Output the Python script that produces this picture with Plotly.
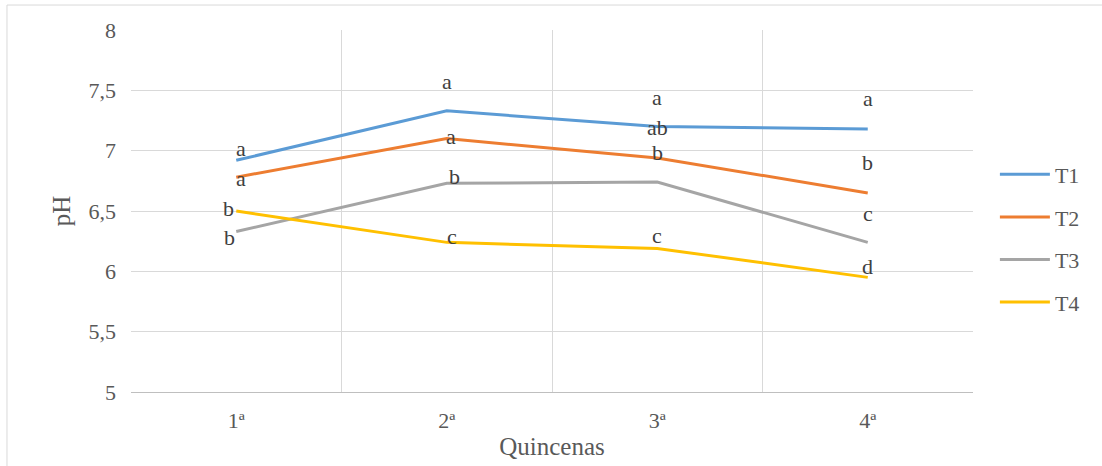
import plotly.graph_objects as go

categories = ["1ª", "2ª", "3ª", "4ª"]
series_names = ["T1", "T2", "T3", "T4"]
t1 = [6.92, 7.33, 7.20, 7.18]
t2 = [6.78, 7.10, 6.94, 6.65]
t3 = [6.33, 6.73, 6.74, 6.24]
t4 = [6.50, 6.24, 6.19, 5.95]
letters_t1 = ["a", "a", "a", "a"]
letters_t2 = ["a", "a", "ab", "b"]
letters_t3 = ["b", "b", "b", "c"]
letters_t4 = ["b", "c", "c", "d"]
y_ticks = [5, 5.5, 6, 6.5, 7, 7.5, 8]
y_ticktext = ["5", "5,5", "6", "6,5", "7", "7,5", "8"]

values = [t1, t2, t3, t4]
letters = [letters_t1, letters_t2, letters_t3, letters_t4]
colors = ["#5B9BD5", "#ED7D31", "#A5A5A5", "#FFC000"]

# label offsets in pixels (style), per series per category
xshifts = [[5, 0, 0, 0], [5, 4, 0, 0], [-7, 8, 0, 0], [-8, 5, 0, 0]]
yshifts = [[12, 29, 29, 30], [-1, 2, 30, 30], [-6, 7, 30, 29], [3, 6, 13, 11]]

FONT = "Liberation Serif"
TXT = "#595959"

fig = go.Figure()
for i, name in enumerate(series_names):
    fig.add_trace(go.Scatter(
        x=categories, y=values[i], mode="lines", name=name,
        legendgroup=name,
        line=dict(color=colors[i], width=3),
    ))
    for j, c in enumerate(categories):
        fig.add_annotation(
            x=c, y=values[i][j], text=letters[i][j], showarrow=False,
            xshift=xshifts[i][j], yshift=yshifts[i][j],
            font=dict(family=FONT, size=22, color="#404040"),
        )

fig.update_layout(
    width=1102, height=466, autosize=False,
    margin=dict(l=131, r=129, t=30, b=74),
    paper_bgcolor="white", plot_bgcolor="white",
    font=dict(family=FONT, size=22, color=TXT),
    showlegend=True,
    legend=dict(
        x=1.026, y=0.424, xanchor="left", yanchor="middle",
        font=dict(family=FONT, size=22, color=TXT),
        tracegroupgap=11, itemwidth=50,
        bgcolor="rgba(0,0,0,0)",
    ),
    xaxis=dict(
        type="category", tickson="boundaries", range=[-0.5, 3.5],
        showgrid=True, gridcolor="#D9D9D9", gridwidth=1,
        showline=True, linecolor="#BFBFBF", linewidth=1,
        ticks="", ticklabelstandoff=9,
        tickfont=dict(family=FONT, size=22, color=TXT),
        title=dict(text="Quincenas", font=dict(family=FONT, size=25, color=TXT), standoff=5),
        zeroline=False, automargin=False,
    ),
    yaxis=dict(
        range=[5, 8], tickvals=y_ticks, ticktext=y_ticktext,
        showgrid=True, gridcolor="#D9D9D9", gridwidth=1,
        showline=False, ticks="", ticklabelstandoff=14,
        tickfont=dict(family=FONT, size=22, color=TXT),
        title=dict(text="pH", font=dict(family=FONT, size=25, color=TXT), standoff=10),
        zeroline=False, automargin=False,
    ),
)

# outer chart border (left and top edges visible; the rest runs off the image)
fig.add_shape(type="rect", xref="paper", yref="paper",
              x0=-0.1473, x1=1.3, y0=-0.4, y1=1.069,
              line=dict(color="#D9D9D9", width=1), layer="below")

fig.write_html(
    "out.html",
    config={"displayModeBar": False, "responsive": False},
    post_script="document.documentElement.style.overflow='hidden';document.body.style.margin='0';document.body.style.overflow='hidden';",
)
